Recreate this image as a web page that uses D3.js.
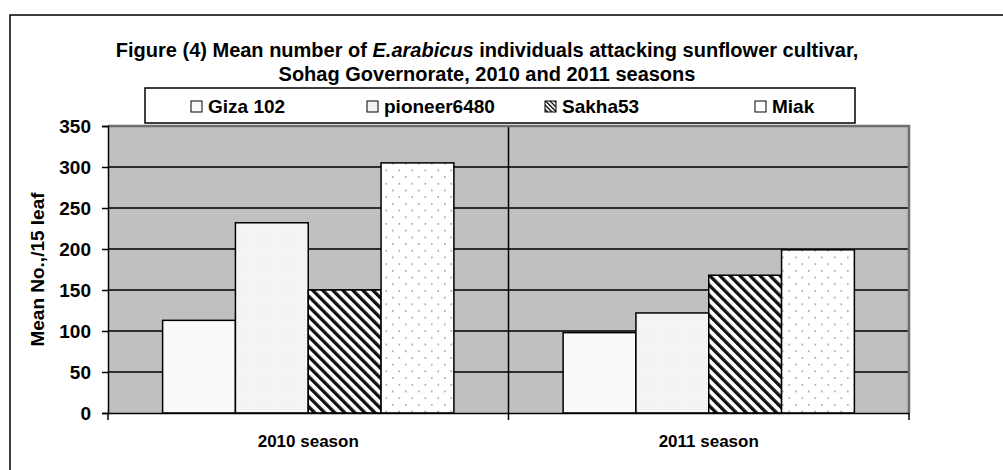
<!DOCTYPE html>
<html>
<head>
<meta charset="utf-8">
<script src="https://cdn.jsdelivr.net/npm/d3@7"></script>
<style>
  html, body { margin: 0; padding: 0; background: #fff; }
  svg { display: block; }
  text { font-family: "Liberation Sans", Arial, sans-serif; font-weight: bold; fill: #000; }
</style>
</head>
<body>
<svg id="chart" width="1003" height="470"></svg>
<script>
// Seasons on the x axis
const categories = ["2010 season", "2011 season"];
// Sunflower cultivars (series)
const cultivars = ["Giza 102", "pioneer6480", "Sakha53", "Miak"];
// Mean number of E. arabicus individuals per 15 leaves, one array per cultivar
const gizaValues = [113, 98];
const pioneerValues = [232, 122];
const sakhaValues = [150, 168];
const miakValues = [305, 199];
// Y axis ticks
const yTicks = [0, 50, 100, 150, 200, 250, 300, 350];

const seriesValues = [gizaValues, pioneerValues, sakhaValues, miakValues];
const FONT = 19;

const svg = d3.select("#chart");
const defs = svg.append("defs");

// Fill patterns for the bars
const pPioneer = defs.append("pattern").attr("id", "fill-pioneer")
  .attr("patternUnits", "userSpaceOnUse").attr("width", 3).attr("height", 3);
pPioneer.append("rect").attr("width", 3).attr("height", 3).attr("fill", "#f5f5f5");
pPioneer.append("rect").attr("x", 1).attr("y", 1).attr("width", 1).attr("height", 1).attr("fill", "#ebebeb");

function hatch(id, size, stripe) {
  const p = defs.append("pattern").attr("id", id)
    .attr("patternUnits", "userSpaceOnUse").attr("width", size).attr("height", size)
    .attr("patternTransform", "rotate(-45)");
  p.append("rect").attr("width", size).attr("height", size).attr("fill", "#fff");
  p.append("rect").attr("width", stripe).attr("height", size).attr("fill", "#111");
}
hatch("fill-sakha", 7.1, 3.3);
hatch("fill-sakha-key", 3.2, 1.4);

const pMiak = defs.append("pattern").attr("id", "fill-miak")
  .attr("patternUnits", "userSpaceOnUse").attr("width", 13).attr("height", 13.4);
pMiak.append("rect").attr("width", 13).attr("height", 13.4).attr("fill", "#fff");
pMiak.append("rect").attr("x", 2).attr("y", 2).attr("width", 1.6).attr("height", 1.6).attr("fill", "#a0a0a0");
pMiak.append("rect").attr("x", 8.5).attr("y", 8.7).attr("width", 1.6).attr("height", 1.6).attr("fill", "#a0a0a0");

const fills = ["#fafafa", "url(#fill-pioneer)", "url(#fill-sakha)", "url(#fill-miak)"];
const keyFills = ["#fafafa", "#f4f4f4", "url(#fill-sakha-key)", "#fff"];

// Chart frame
svg.append("rect").attr("x", 10).attr("y", 15).attr("width", 1010).attr("height", 470)
  .attr("fill", "none").attr("stroke", "#000").attr("stroke-width", 1.5);

// Plot area
const plot = { left: 108, right: 909, top: 126, bottom: 413 };

const x = d3.scaleBand().domain(categories).range([plot.left, plot.right]).padding(0);
const xInner = d3.scaleBand().domain(cultivars).range([0, x.bandwidth()])
  .paddingInner(0).paddingOuter(0.75);
const y = d3.scaleLinear().domain([0, 350]).range([plot.bottom, plot.top]);

svg.append("rect").attr("x", plot.left).attr("y", plot.top)
  .attr("width", plot.right - plot.left).attr("height", plot.bottom - plot.top)
  .attr("fill", "#c0c0c0");

// Horizontal gridlines
svg.append("g").selectAll("line").data(yTicks.filter(d => d > 0 && d < 350)).join("line")
  .attr("x1", plot.left).attr("x2", plot.right)
  .attr("y1", d => y(d)).attr("y2", d => y(d))
  .attr("stroke", "#2e2e2e").attr("stroke-width", 2);

// Category divider
svg.append("line")
  .attr("x1", x(categories[1])).attr("x2", x(categories[1]))
  .attr("y1", plot.top).attr("y2", plot.bottom)
  .attr("stroke", "#000").attr("stroke-width", 1.5);

// Plot border (top and right)
svg.append("path")
  .attr("d", `M${plot.left},${plot.top}H${plot.right}V${plot.bottom}`)
  .attr("fill", "none").attr("stroke", "#6e6e6e").attr("stroke-width", 2.5);

// Bars
const groups = svg.append("g").selectAll("g").data(cultivars).join("g");
groups.selectAll("rect")
  .data((c, i) => categories.map((cat, j) => ({ cat, c, i, v: seriesValues[i][j] })))
  .join("rect")
  .attr("x", d => x(d.cat) + xInner(d.c))
  .attr("y", d => y(d.v))
  .attr("width", xInner.bandwidth())
  .attr("height", d => y(0) - y(d.v))
  .attr("fill", d => fills[d.i])
  .attr("stroke", "#000").attr("stroke-width", 1.5);

function styleText(sel, size) {
  sel.style("font-size", (size || FONT) + "px").style("font-family", "'Liberation Sans', Arial, sans-serif")
    .style("font-weight", "bold").attr("fill", "#000");
}

// Y axis
const yAxis = d3.axisLeft(y).tickValues(yTicks).tickSize(6).tickPadding(11);
const gy = svg.append("g").attr("transform", `translate(${plot.left},0)`).call(yAxis);
gy.select(".domain").attr("stroke", "#000").attr("stroke-width", 1.5);
gy.selectAll(".tick line").attr("stroke", "#000").attr("stroke-width", 1.5);
gy.selectAll(".tick text").call(styleText);

// X axis
const xAxis = d3.axisBottom(x).tickSize(0).tickPadding(22);
const gx = svg.append("g").attr("transform", `translate(0,${plot.bottom})`).call(xAxis);
gx.select(".domain").attr("stroke", "#000").attr("stroke-width", 1.5);
gx.selectAll(".tick text").call(styleText, 17);
// Tick marks at category boundaries
gx.append("g").selectAll("line")
  .data([plot.left, x(categories[1]), plot.right]).join("line")
  .attr("x1", d => d).attr("x2", d => d).attr("y1", 0).attr("y2", 7)
  .attr("stroke", "#000").attr("stroke-width", 1.5);

// Y axis title
svg.append("text")
  .attr("transform", `translate(44,${(plot.top + plot.bottom) / 2}) rotate(-90)`)
  .attr("text-anchor", "middle")
  .style("font-size", FONT + "px")
  .text("Mean No.,/15 leaf");

// Title
const title = svg.append("text").attr("text-anchor", "middle").style("font-size", "20px");
const t1 = title.append("tspan").attr("x", 487).attr("y", 57);
t1.append("tspan").text("Figure (4) Mean number of ");
t1.append("tspan").style("font-style", "italic").text("E.arabicus");
t1.append("tspan").text(" individuals attacking sunflower cultivar,");
title.append("tspan").attr("x", 487).attr("y", 81).text("Sohag Governorate, 2010 and 2011 seasons");

// Legend
const legend = svg.append("g");
legend.append("rect").attr("x", 145).attr("y", 88).attr("width", 710).attr("height", 35)
  .attr("fill", "#fff").attr("stroke", "#000").attr("stroke-width", 1.5);
const keyX = [191, 367, 545, 755];
const items = legend.selectAll("g.item").data(cultivars).join("g")
  .attr("class", "item")
  .attr("transform", (d, i) => `translate(${keyX[i]},106)`);
items.append("rect").attr("x", 0).attr("y", -5).attr("width", 11).attr("height", 11)
  .attr("fill", (d, i) => keyFills[i]).attr("stroke", "#000").attr("stroke-width", 1);
items.append("text").attr("x", 17).attr("y", 7).style("font-size", FONT + "px").text(d => d);
</script>
</body>
</html>
